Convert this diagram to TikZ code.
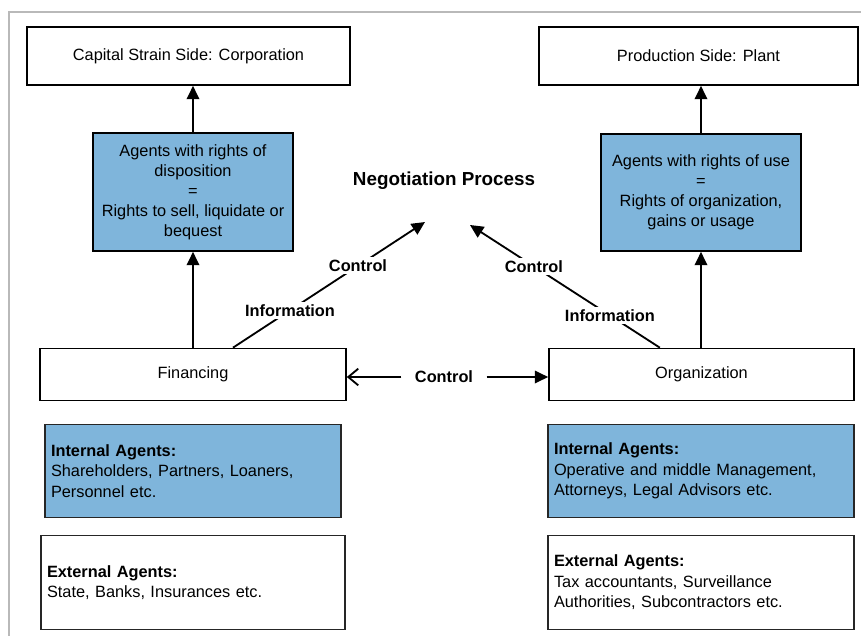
\documentclass[tikz,border=0pt]{standalone}
\usepackage{fontspec}
\setmainfont{Liberation Sans}
\usetikzlibrary{arrows.meta}
\definecolor{agentblue}{RGB}{127,181,219}

\begin{document}
\begin{tikzpicture}[x=0.6pt, y=-0.6pt]
\tikzset{
    arrow/.style={-{Triangle[length=8pt, width=7.5pt]}, line width=1.1pt},
    openarrow/.style={-{Straight Barb[length=6pt, width=10pt]}, line width=1.1pt},
    box/.style={rectangle, draw=black, line width=1pt, align=center,
                font=\fontsize{9.8}{11.8}\selectfont},
    rights/.style={box, fill=agentblue, font=\fontsize{9.8}{12}\selectfont},
    agents/.style={rectangle, draw=black!85, line width=0.7pt, align=left,
                   inner xsep=3.6pt, minimum height=56pt,
                   font=\fontsize{9.8}{12.3}\selectfont},
    flowtext/.style={font=\fontsize{9.8}{11.8}\selectfont\bfseries, inner sep=1.5pt}
}
\useasboundingbox (0,0) rectangle (861,636);
\draw[gray!55, line width=0.9pt] (9,636) -- (9,12) -- (861,12);

\node[box, minimum width=193.8pt, minimum height=34.8pt] (cap)  at (188.5,56) {Capital Strain Side: Corporation};
\node[box, minimum width=191.4pt, minimum height=34.8pt] (prod) at (698.5,56) {Production Side: Plant};
\node[rights, minimum width=120pt, minimum height=70.8pt] (disp) at (193,192)
    {Agents with rights of\\ disposition\\ =\\ Rights to sell, liquidate or\\ bequest};
\node[rights, minimum width=120pt, minimum height=70.2pt] (use)  at (701,192.5)
    {Agents with rights of use\\ =\\ Rights of organization,\\ gains or usage};
\node[box, minimum width=183.6pt, minimum height=31.2pt] (fin) at (193,374.5)   {Financing};
\node[box, minimum width=183pt,   minimum height=31.2pt] (org) at (701.5,374.5) {Organization};

\node[font=\fontsize{11.3}{13}\selectfont\bfseries] (neg) at (444,181) {Negotiation Process};
\node[flowtext, inner xsep=8pt] (ctl) at (444,377) {Control};

\node[agents, fill=agentblue, text width=170.4pt] (intF) at (193,471)
    {\textbf{Internal Agents:}\\ Shareholders, Partners, Loaners,\\ Personnel etc.};
\node[agents, text width=175.2pt] (extF) at (193,582.5)
    {\textbf{External Agents:}\\ State, Banks, Insurances etc.};
\node[agents, fill=agentblue, text width=176.4pt] (intO) at (701,471)
    {\textbf{Internal Agents:}\\ Operative and middle Management,\\ Attorneys, Legal Advisors etc.};
\node[agents, text width=176.4pt] (extO) at (701,582.5)
    {\textbf{External Agents:}\\ Tax accountants, Surveillance\\ Authorities, Subcontractors etc.};

\coordinate (negL) at (425,222);
\coordinate (negR) at (470,225);

\draw[arrow] (disp.north) -- (disp.north |- cap.south);
\draw[arrow] (fin) -- (disp);
\draw[arrow] (use.north) -- (use.north |- prod.south);
\draw[arrow] (use.south |- org.north) -- (use.south);

\draw[arrow] ([xshift=24pt]fin.north) --
    node[flowtext, pos=0.297, fill=white] {Information}
    node[flowtext, pos=0.651, fill=white] {Control} (negL);
\draw[arrow] ([xshift=-25pt]org.north) --
    node[flowtext, pos=0.263, fill=white] {Information}
    node[flowtext, pos=0.663, fill=white] {Control} (negR);

\draw[openarrow] (ctl.west) -- (ctl.west -| fin.east);
\draw[arrow] (ctl.east) -- (ctl.east -| org.west);
\end{tikzpicture}
\end{document}
